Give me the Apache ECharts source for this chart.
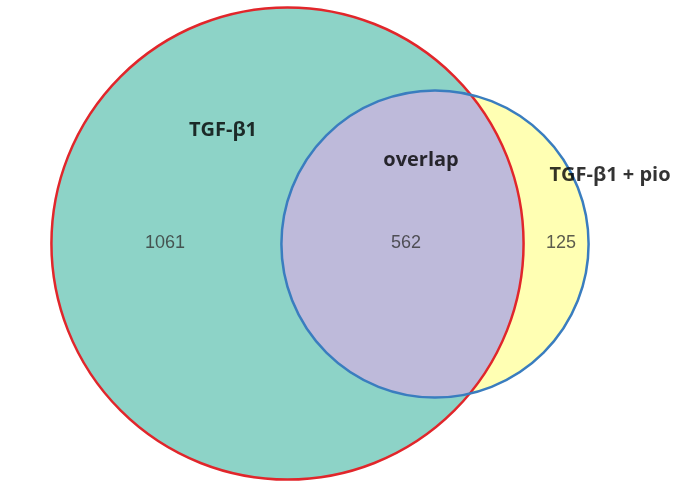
<!DOCTYPE html>
<html>
<head>
<meta charset="utf-8">
<script src="https://cdn.jsdelivr.net/npm/echarts@6/dist/echarts.min.js"></script>
<style>
  html, body { margin: 0; padding: 0; background: #fff; }
  #venn { width: 675px; height: 483px; }
</style>
</head>
<body>
<div id="venn"></div>
<script>
// venn data
const setNames = ['TGF-β1', 'TGF-β1 + pio']
const onlyCounts = [1061, 125]
const overlapName = 'overlap'
const overlapCount = 562

// layout (pixel space of the 675x483 canvas)
const centres = [[287.5, 243.5], [435, 244]]
const pxPerSqrt = 5.86
const namePos = [[223, 130], [610, 175]]
const overlapNamePos = [421, 160]
const countPos = [[165, 243.5], [561, 243.5]]
const overlapCountPos = [406, 243.5]

const fills = ['#8dd3c7', '#ffffb3']
const overlapFill = '#bebada'
const strokes = ['#e1262b', '#3a7dbf']

const totals = onlyCounts.map(c => c + overlapCount)
const circles = centres.map((c, i) => [c[0], c[1], pxPerSqrt * Math.sqrt(totals[i])])

function lensPath (api) {
  const a = api.coord([circles[0][0], circles[0][1]])
  const b = api.coord([circles[1][0], circles[1][1]])
  const R = api.size([circles[0][2], 0])[0]
  const r = api.size([circles[1][2], 0])[0]
  const dx = b[0] - a[0]
  const dy = b[1] - a[1]
  const d = Math.sqrt(dx * dx + dy * dy)
  const along = (d * d + R * R - r * r) / (2 * d)
  const h = Math.sqrt(R * R - along * along)
  const ux = dx / d
  const uy = dy / d
  const px = a[0] + along * ux
  const py = a[1] + along * uy
  const i1 = [px - h * uy, py + h * ux]
  const i2 = [px + h * uy, py - h * ux]
  const bigLarge = along < 0 ? 1 : 0
  const smallLarge = (d - along) < 0 ? 1 : 0
  return 'M' + i1[0] + ' ' + i1[1] +
    ' A' + R + ' ' + R + ' 0 ' + bigLarge + ' 0 ' + i2[0] + ' ' + i2[1] +
    ' A' + r + ' ' + r + ' 0 ' + smallLarge + ' 0 ' + i1[0] + ' ' + i1[1] + ' Z'
}

const nameStyle = { color: '#000', fontSize: 20, fontWeight: 'bold', fontFamily: 'Open Sans' }
const countStyle = { color: '#333', fontSize: 18, fontFamily: 'Liberation Sans' }

let labelData = []
setNames.forEach((n, i) => labelData.push({ value: namePos[i], text: n, style: nameStyle }))
labelData.push({ value: overlapNamePos, text: overlapName, style: nameStyle })
onlyCounts.forEach((c, i) => labelData.push({ value: countPos[i], text: String(c), style: countStyle }))
labelData.push({ value: overlapCountPos, text: String(overlapCount), style: countStyle })

let myChart = echarts.init(document.getElementById('venn'))
myChart.setOption({
  animation: false,
  grid: { left: 0, right: 0, top: 0, bottom: 0 },
  xAxis: { type: 'value', min: 0, max: 675, show: false },
  yAxis: { type: 'value', min: 0, max: 483, inverse: true, show: false },
  series: [
    {
      // set fills
      type: 'custom',
      data: circles,
      renderItem (params, api) {
        const c = api.coord([api.value(0), api.value(1)])
        const r = api.size([api.value(2), 0])[0]
        return { type: 'circle', shape: { cx: c[0], cy: c[1], r: r }, style: { fill: fills[params.dataIndex] } }
      },
      z: 1
    },
    {
      // overlap region
      type: 'custom',
      data: [[overlapCount]],
      renderItem (params, api) {
        return { type: 'path', shape: { pathData: lensPath(api) }, style: { fill: overlapFill } }
      },
      z: 2
    },
    {
      // outlines
      type: 'custom',
      data: circles,
      renderItem (params, api) {
        const c = api.coord([api.value(0), api.value(1)])
        const r = api.size([api.value(2), 0])[0]
        return { type: 'circle', shape: { cx: c[0], cy: c[1], r: r }, style: { fill: 'none', stroke: strokes[params.dataIndex], lineWidth: 2.5 } }
      },
      z: 3
    },
    {
      type: 'scatter',
      symbolSize: 0,
      data: labelData.map(d => ({
        value: d.value,
        label: Object.assign({ show: true, position: 'inside', formatter: d.text }, d.style)
      })),
      z: 4
    }
  ]
})
</script>
</body>
</html>
